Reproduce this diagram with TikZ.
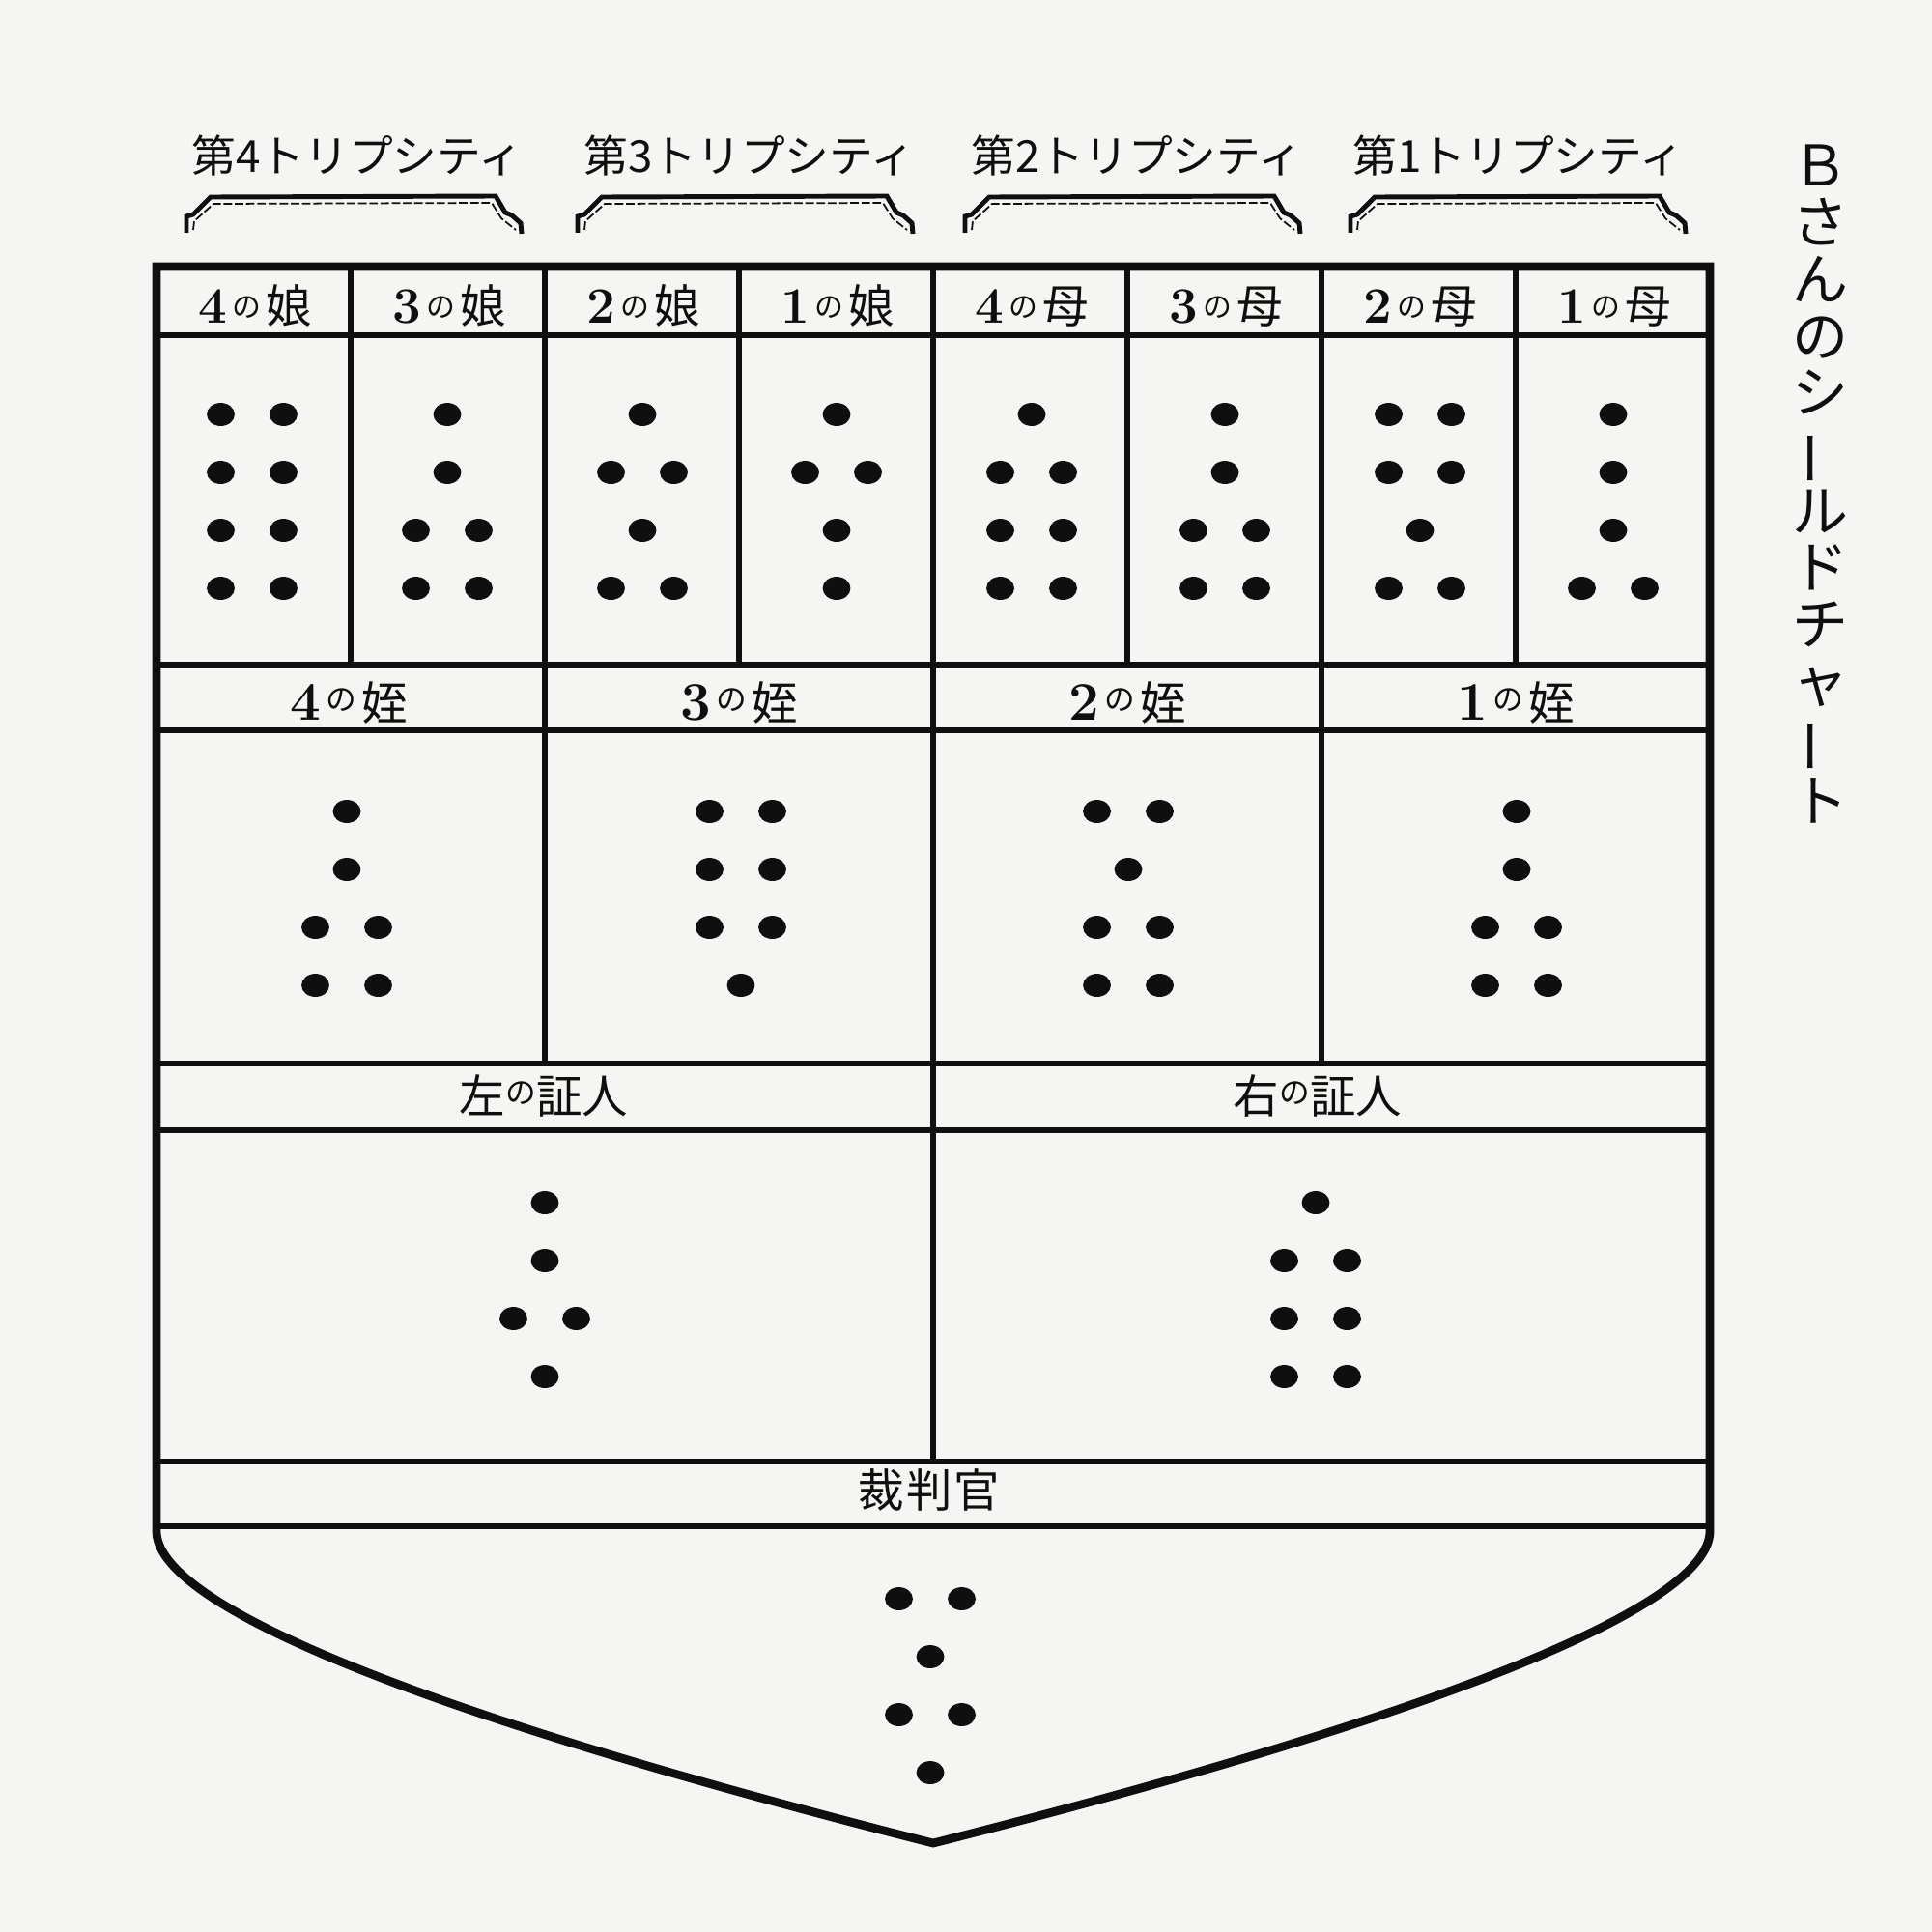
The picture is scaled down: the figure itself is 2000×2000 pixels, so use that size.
\documentclass[tikz,border=0pt]{standalone}
\usepackage{fontspec}
\usepackage{graphicx}
\newfontfamily\jp{Noto Sans CJK JP}
\definecolor{paper}{RGB}{245,245,243}
\definecolor{ink}{RGB}{15,15,15}

\newcommand{\hdlab}[2]{{\fontsize{15}{15}\selectfont\bfseries #1}\kern1.5pt\raisebox{1.6pt}{\jp\fontsize{8.5}{9}\selectfont の}\kern1.5pt{\jp\fontsize{13.5}{14}\selectfont #2}}
\newcommand{\nclab}[2]{{\fontsize{16}{16}\selectfont\bfseries #1}\kern1.5pt\raisebox{2.6pt}{\jp\fontsize{9}{9}\selectfont の}\kern1.5pt{\jp\fontsize{13.5}{14}\selectfont #2}}
\newcommand{\wtlab}[1]{{\jp\fontsize{13.5}{14}\selectfont #1}\raisebox{2.6pt}{\jp\fontsize{9}{9}\selectfont の}{\jp\fontsize{13.5}{14}\selectfont 証人}}
\newcommand{\choonv}{\rotatebox[origin=c]{90}{ー}}

\newcommand{\geofig}[3]{%
  \foreach \n [count=\i from 0] in {#3}{%
    \ifnum\n=1
      \fill[ink] (#1,#2+\i*60) ellipse[x radius=4.1pt,y radius=3.4pt];
    \else
      \fill[ink] (#1-32.5,#2+\i*60) ellipse[x radius=4.1pt,y radius=3.4pt];
      \fill[ink] (#1+32.5,#2+\i*60) ellipse[x radius=4.1pt,y radius=3.4pt];
    \fi}}

\newcommand{\ornbrace}[1]{%
  \draw[ink,line width=1.4pt,line join=miter]
    (#1-174,241) -- (#1-174,224) -- (#1-167,222) -- (#1-149,204) -- (#1+146,203)
    -- (#1+156,220) -- (#1+163,223) -- (#1+172,231) -- (#1+173,242);
  \draw[ink,line width=0.5pt,dash pattern=on 2.5pt off 0.8pt]
    (#1-167,238) -- (#1-166,229) -- (#1-146,211) -- (#1+142,210) -- (#1+152,226) -- (#1+167,238);}

\tikzset{
  outerline/.style={draw=ink,line width=2.5pt,line join=miter},
  innerline/.style={draw=ink,line width=1.8pt},
  ttl/.style={font={\jp\fontsize{13}{14}\selectfont},anchor=base,inner sep=0pt,text=ink},
  lab/.style={anchor=base,inner sep=0pt,text=ink},
}

\begin{document}
\begin{tikzpicture}[x=0.01cm,y=-0.01cm]
\useasboundingbox (0,0) rectangle (2000,2000);
\fill[paper] (0,0) rectangle (2000,2000);

% titles
\node[ttl] (t4) at (370,179) {第4トリプシティ};
\node[ttl] (t3) at (776,179) {第3トリプシティ};
\node[ttl] (t2) at (1177,179) {第2トリプシティ};
\node[ttl] (t1) at (1572,179) {第1トリプシティ};
\ornbrace{367}
\ornbrace{772}
\ornbrace{1173}
\ornbrace{1572}

% vertical title
\node[font={\jp\fontsize{16.5}{16.72}\selectfont},align=center,inner sep=0pt,text=ink] (vt) at (1884,501)
  {Ｂ\\さ\\ん\\の\\シ\\\choonv\\ル\\ド\\チ\\ャ\\\choonv\\ト};

% inner grid
\foreach \yy in {347,688,756,1101,1170,1513,1580}
  \draw[innerline] (162,\yy) -- (1770,\yy);
\foreach \xx in {363,765,1167,1569}
  \draw[innerline] (\xx,276) -- (\xx,688);
\foreach \xx in {564,1368}
  \draw[innerline] (\xx,276) -- (\xx,1101);
\draw[innerline] (966,276) -- (966,1513);

% outline
\draw[outerline] (162,1585) -- (162,276) -- (1770,276) -- (1770,1585)
  .. controls (1770,1660) and (1512,1770) .. (966,1908)
  .. controls (420,1770) and (162,1660) .. (162,1585) -- cycle;

% header labels
\node[lab] (d4) at (264,334) {\hdlab{4}{娘}};
\node[lab] (d3) at (465,334) {\hdlab{3}{娘}};
\node[lab] (d2) at (666,334) {\hdlab{2}{娘}};
\node[lab] (d1) at (867,334) {\hdlab{1}{娘}};
\node[lab] (m4) at (1068,334) {\hdlab{4}{母}};
\node[lab] (m3) at (1269,334) {\hdlab{3}{母}};
\node[lab] (m2) at (1470,334) {\hdlab{2}{母}};
\node[lab] (m1) at (1671,334) {\hdlab{1}{母}};

\node[lab] (n4) at (361,745) {\nclab{4}{姪}};
\node[lab] (n3) at (765,745) {\nclab{3}{姪}};
\node[lab] (n2) at (1167,745) {\nclab{2}{姪}};
\node[lab] (n1) at (1569,745) {\nclab{1}{姪}};

\node[lab] (wl) at (563,1152) {\wtlab{左}};
\node[lab] (wr) at (1364,1152) {\wtlab{右}};

\node[lab,font={\jp\fontsize{13.5}{14}\selectfont}] (judge) at (962,1560) {裁\kern0.6pt判\kern0.6pt官};

% figures
\geofig{261}{429}{2,2,2,2}
\geofig{463}{429}{1,1,2,2}
\geofig{665}{429}{1,2,1,2}
\geofig{866}{429}{1,2,1,1}
\geofig{1068}{429}{1,2,2,2}
\geofig{1268}{429}{1,1,2,2}
\geofig{1470}{429}{2,2,1,2}
\geofig{1670}{429}{1,1,1,2}

\geofig{359}{840}{1,1,2,2}
\geofig{767}{840}{2,2,2,1}
\geofig{1168}{840}{2,1,2,2}
\geofig{1570}{840}{1,1,2,2}

\geofig{564}{1245}{1,1,2,1}
\geofig{1362}{1245}{1,2,2,2}

\geofig{963}{1655}{2,1,2,1}
\end{tikzpicture}
\end{document}
